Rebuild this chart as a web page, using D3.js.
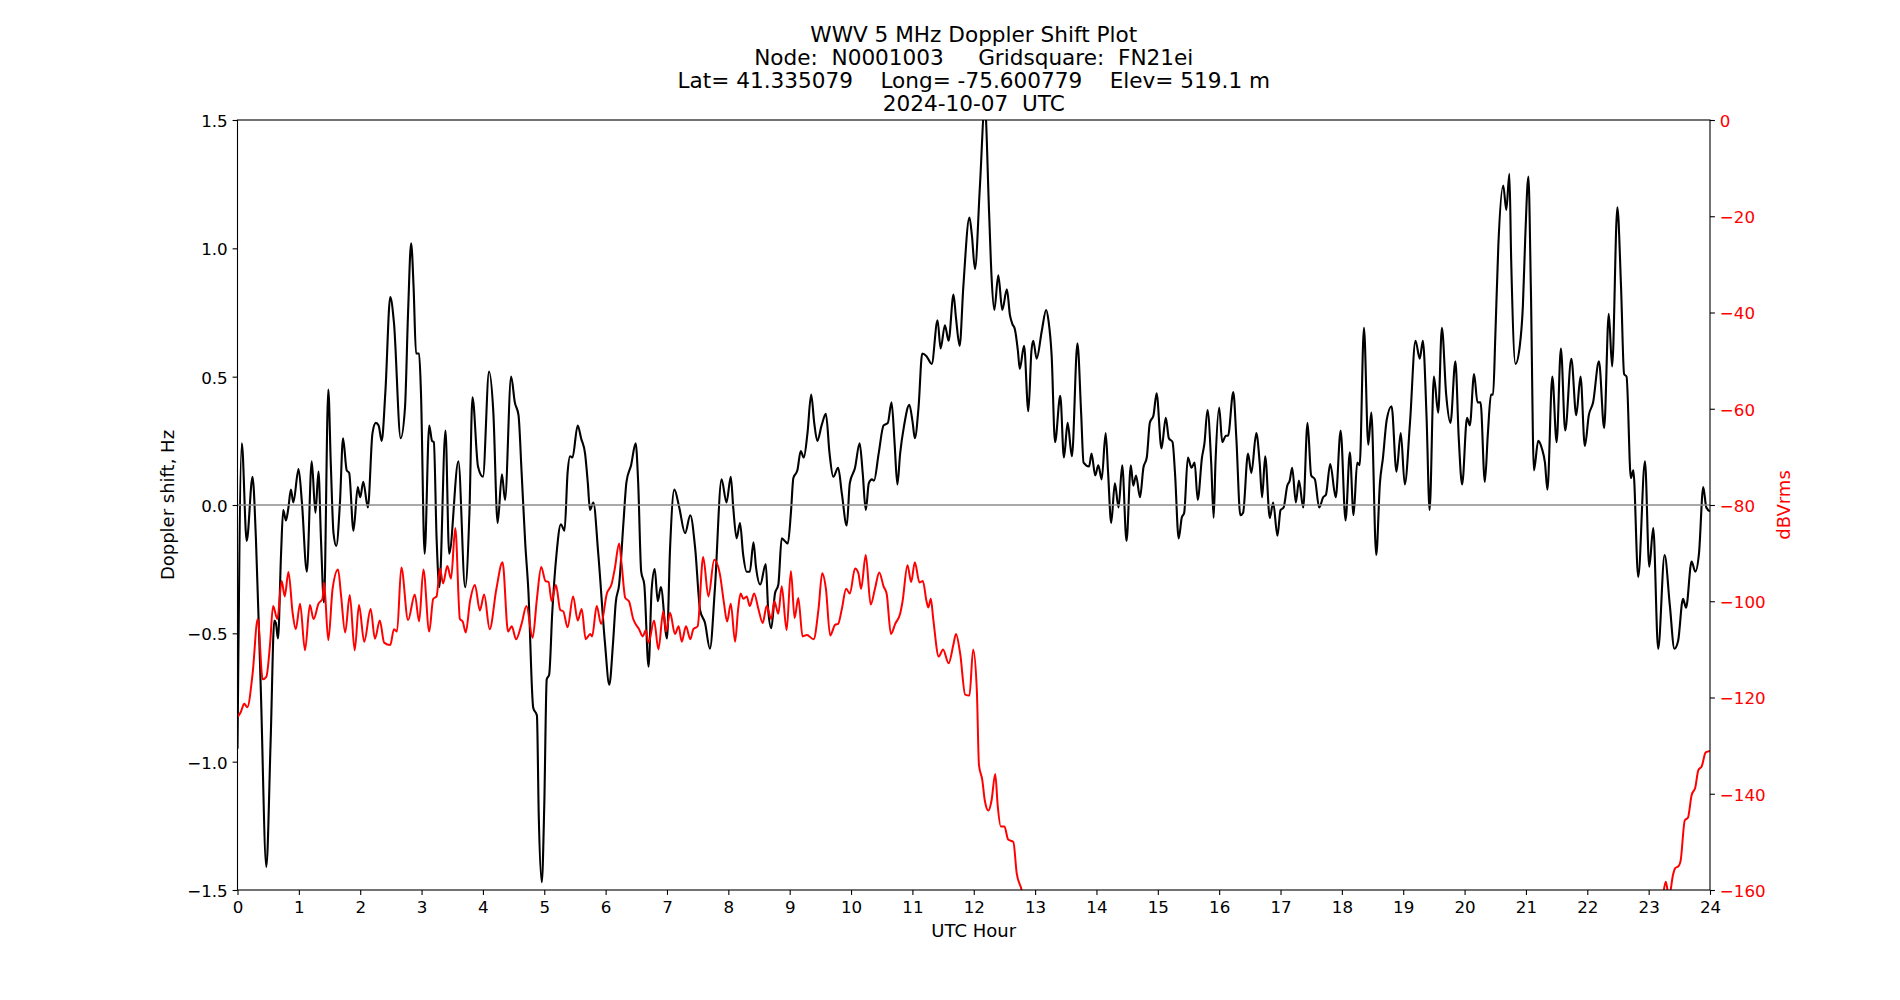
<!DOCTYPE html>
<html>
<head>
<meta charset="utf-8">
<script src="https://cdn.jsdelivr.net/npm/d3@7"></script>
<style>
  body { margin: 0; background: #fff; }
  text { font-family: "DejaVu Sans", sans-serif; }
</style>
</head>
<body>
<svg id="chart"></svg>
<script>
// Titles
const titleLines = [
    "WWV 5 MHz Doppler Shift Plot",
    "Node:  N0001003     Gridsquare:  FN21ei",
    "Lat= 41.335079    Long= -75.600779    Elev= 519.1 m",
    "2024-10-07  UTC"
];

// Tick values
const hourTicks = d3.range(0, 25, 1);
const dopplerTicks = [-1.5, -1.0, -0.5, 0.0, 0.5, 1.0, 1.5];
const dbTicks = [-160, -140, -120, -100, -80, -60, -40, -20, 0];

// Doppler shift (Hz)
const dopplerHours = [
    0.0, 0.07, 0.15, 0.245, 0.30, 0.38, 0.47, 0.54, 0.60, 0.625, 0.66, 0.71, 0.745, 0.79, 0.83, 0.87, 0.91, 0.995,
    1.05, 1.13, 1.21, 1.27, 1.32, 1.36, 1.41, 1.48, 1.52, 1.565, 1.61, 1.67, 1.72, 1.78, 1.82, 1.89, 1.96,
    2.0, 2.05, 2.125, 2.20, 2.255, 2.30, 2.35, 2.41, 2.49, 2.55, 2.66, 2.73, 2.78, 2.83, 2.87, 2.91, 2.96, 2.99,
    3.05, 3.125, 3.17, 3.20, 3.245, 3.29, 3.39, 3.45, 3.60, 3.71, 3.78, 3.83, 3.92, 4.0,
    4.10, 4.17, 4.24, 4.31, 4.36, 4.46, 4.52, 4.58, 4.63, 4.69, 4.74, 4.82, 4.88, 4.91, 4.96,
    5.0, 5.04, 5.08, 5.13, 5.20, 5.27, 5.33, 5.38, 5.42, 5.46, 5.545, 5.60, 5.665, 5.71, 5.745, 5.80, 5.88, 5.99,
    6.06, 6.12, 6.165, 6.22, 6.29, 6.34, 6.415, 6.49, 6.53, 6.58, 6.63, 6.70, 6.75, 6.80, 6.85, 6.90, 7.0,
    7.05, 7.12, 7.20, 7.295, 7.38, 7.46, 7.54, 7.62, 7.70, 7.78, 7.89, 7.97,
    8.04, 8.08, 8.135, 8.19, 8.24, 8.30, 8.35, 8.41, 8.45, 8.52, 8.61, 8.65, 8.70, 8.76, 8.815, 8.87, 8.92, 8.97,
    9.02, 9.06, 9.125, 9.18, 9.23, 9.29, 9.35, 9.40, 9.45, 9.52, 9.59, 9.65, 9.71, 9.79, 9.85, 9.93, 9.98,
    10.065, 10.14, 10.19, 10.24, 10.29, 10.34, 10.375, 10.45, 10.53, 10.60, 10.66, 10.71, 10.755, 10.80, 10.865, 10.95,
    11.005, 11.04, 11.10, 11.16, 11.23, 11.315, 11.41, 11.46, 11.53, 11.59, 11.67, 11.71, 11.77, 11.83, 11.93, 11.97,
    12.02, 12.10, 12.18, 12.25, 12.29, 12.335, 12.40, 12.465, 12.54, 12.59, 12.63, 12.67, 12.72, 12.75, 12.82, 12.89, 12.94, 12.97,
    13.025, 13.11, 13.18, 13.22, 13.27, 13.325, 13.41, 13.47, 13.53, 13.60, 13.69, 13.75, 13.79, 13.88, 13.92, 13.98,
    14.03, 14.085, 14.15, 14.19, 14.24, 14.30, 14.36, 14.42, 14.49, 14.56, 14.60, 14.645, 14.71, 14.765, 14.82, 14.87, 14.93, 14.98,
    15.06, 15.13, 15.18, 15.24, 15.28, 15.34, 15.39, 15.43, 15.49, 15.55, 15.60, 15.65, 15.72, 15.76, 15.81, 15.87, 15.91, 15.94,
    16.0, 16.05, 16.11, 16.145, 16.23, 16.28, 16.345, 16.39, 16.47, 16.525, 16.605, 16.66, 16.70, 16.75, 16.825, 16.88, 16.95,
    17.0, 17.05, 17.11, 17.15, 17.19, 17.25, 17.30, 17.37, 17.44, 17.50, 17.56, 17.63, 17.695, 17.74, 17.81, 17.90, 17.98,
    18.06, 18.13, 18.19, 18.25, 18.29, 18.36, 18.43, 18.48, 18.56, 18.62, 18.67, 18.73, 18.81, 18.89, 18.96,
    19.025, 19.11, 19.20, 19.27, 19.32, 19.38, 19.43, 19.50, 19.57, 19.63, 19.70, 19.77, 19.85, 19.905, 19.96,
    20.04, 20.085, 20.155, 20.21, 20.26, 20.33, 20.38, 20.43, 20.465, 20.50, 20.55, 20.63, 20.68, 20.73, 20.76, 20.83, 20.90, 20.95, 20.99,
    21.04, 21.08, 21.13, 21.20, 21.26, 21.31, 21.35, 21.43, 21.50, 21.57, 21.64, 21.74, 21.82, 21.89, 21.96,
    22.025, 22.095, 22.19, 22.275, 22.35, 22.405, 22.49, 22.55, 22.60, 22.64, 22.71, 22.75, 22.83, 22.94,
    23.01, 23.075, 23.155, 23.26, 23.345, 23.42, 23.48, 23.56, 23.61, 23.70, 23.76, 23.82, 23.89, 23.94, 24.0
];
const dopplerValues = [
    -0.95, 0.24, -0.14, 0.11, -0.13, -0.72, -1.41, -0.92, -0.45, -0.46, -0.52, -0.19, -0.02, -0.06, -0.01, 0.06, 0.01, 0.14,
    0.01, -0.26, 0.17, -0.03, 0.13, -0.13, -0.38, 0.45, 0.165, -0.11, -0.16, 0.01, 0.26, 0.135, 0.125, -0.10, 0.07,
    0.03, 0.09, -0.01, 0.28, 0.32, 0.31, 0.25, 0.44, 0.81, 0.71, 0.26, 0.38, 0.75, 1.02, 0.85, 0.59, 0.59, 0.44,
    -0.19, 0.31, 0.25, 0.245, -0.13, -0.32, 0.29, -0.19, 0.17, -0.32, -0.03, 0.42, 0.15, 0.11,
    0.52, 0.36, -0.07, 0.12, 0.02, 0.50, 0.40, 0.35, 0.13, -0.15, -0.33, -0.79, -0.82, -1.21, -1.47,
    -1.17, -0.68, -0.66, -0.42, -0.19, -0.075, -0.10, 0.125, 0.19, 0.185, 0.31, 0.26, 0.20, 0.085, -0.02, 0.01, -0.19, -0.54,
    -0.70, -0.54, -0.38, -0.31, -0.07, 0.09, 0.155, 0.24, 0.09, -0.26, -0.31, -0.63, -0.33, -0.25, -0.375, -0.32, -0.52,
    -0.17, 0.06, -0.01, -0.11, -0.04, -0.17, -0.41, -0.46, -0.56, -0.33, 0.10, 0.01,
    0.11, -0.01, -0.13, -0.07, -0.19, -0.26, -0.26, -0.145, -0.24, -0.31, -0.23, -0.41, -0.48, -0.345, -0.31, -0.13, -0.14, -0.15,
    -0.03, 0.105, 0.135, 0.21, 0.185, 0.28, 0.43, 0.32, 0.25, 0.31, 0.355, 0.20, 0.11, 0.145, 0.045, -0.08, 0.085,
    0.145, 0.24, 0.125, -0.02, 0.085, 0.10, 0.095, 0.20, 0.31, 0.32, 0.40, 0.24, 0.08, 0.20, 0.31, 0.39,
    0.32, 0.26, 0.38, 0.59, 0.58, 0.55, 0.72, 0.61, 0.70, 0.64, 0.82, 0.73, 0.62, 0.85, 1.12, 1.05,
    0.92, 1.24, 1.56, 1.14, 0.89, 0.76, 0.895, 0.76, 0.84, 0.74, 0.705, 0.685, 0.60, 0.53, 0.62, 0.365, 0.60, 0.64,
    0.57, 0.68, 0.76, 0.715, 0.58, 0.245, 0.425, 0.185, 0.32, 0.19, 0.63, 0.36, 0.165, 0.15, 0.20, 0.115,
    0.155, 0.10, 0.28, 0.125, -0.07, 0.085, -0.01, 0.155, -0.14, 0.155, 0.075, 0.115, 0.03, 0.145, 0.185, 0.32, 0.35, 0.435,
    0.22, 0.34, 0.26, 0.245, 0.125, -0.13, -0.05, -0.03, 0.185, 0.145, 0.165, 0.02, 0.185, 0.24, 0.37, 0.165, -0.05, 0.165,
    0.38, 0.245, 0.27, 0.27, 0.44, 0.26, -0.04, -0.03, 0.20, 0.125, 0.28, 0.165, 0.03, 0.19, -0.05, 0.01, -0.12,
    -0.02, -0.01, 0.075, 0.095, 0.145, 0.01, 0.095, -0.01, 0.32, 0.115, 0.10, -0.01, 0.03, 0.04, 0.16, 0.03, 0.29,
    -0.06, 0.205, -0.04, 0.165, 0.155, 0.69, 0.235, 0.36, -0.195, 0.085, 0.185, 0.33, 0.385, 0.13, 0.28,
    0.08, 0.32, 0.64, 0.57, 0.64, 0.345, -0.02, 0.50, 0.36, 0.69, 0.43, 0.32, 0.56, 0.26, 0.08,
    0.34, 0.31, 0.51, 0.40, 0.40, 0.09, 0.28, 0.43, 0.43, 0.65, 1.01, 1.245, 1.15, 1.29, 0.95, 0.55, 0.62, 0.775, 1.05,
    1.28, 0.85, 0.135, 0.25, 0.22, 0.165, 0.06, 0.50, 0.245, 0.61, 0.29, 0.57, 0.35, 0.50, 0.23,
    0.35, 0.40, 0.56, 0.30, 0.745, 0.54, 1.16, 0.85, 0.51, 0.50, 0.105, 0.135, -0.28, 0.17,
    -0.24, -0.09, -0.56, -0.195, -0.39, -0.56, -0.53, -0.365, -0.40, -0.22, -0.26, -0.19, 0.07, -0.01, -0.025
];

// Signal level (dBVrms); it dips below -160 between ~12.8 h and ~23.2 h
const levelHours = [
    0.0, 0.054, 0.11, 0.16, 0.245, 0.33, 0.41, 0.47, 0.53, 0.58, 0.65, 0.72, 0.77, 0.83, 0.90, 0.95,
    1.02, 1.10, 1.18, 1.24, 1.32, 1.385, 1.41, 1.48, 1.55, 1.64, 1.685, 1.755, 1.83, 1.91, 1.98,
    2.065, 2.17, 2.24, 2.32, 2.39, 2.49, 2.55, 2.60, 2.67, 2.78, 2.89, 2.96,
    3.03, 3.125, 3.19, 3.245, 3.30, 3.35, 3.42, 3.48, 3.55, 3.625, 3.67, 3.72, 3.79, 3.87, 3.95,
    4.02, 4.11, 4.22, 4.32, 4.41, 4.47, 4.54, 4.63, 4.71, 4.81, 4.88, 4.95,
    5.02, 5.07, 5.12, 5.19, 5.26, 5.31, 5.38, 5.47, 5.545, 5.61, 5.675, 5.75, 5.78, 5.855, 5.925,
    6.02, 6.10, 6.15, 6.22, 6.26, 6.32, 6.38, 6.45, 6.545, 6.605, 6.655, 6.70, 6.79, 6.86, 6.94, 6.985,
    7.05, 7.13, 7.19, 7.24, 7.31, 7.38, 7.43, 7.50, 7.59, 7.675, 7.77, 7.86, 7.93, 7.98,
    8.04, 8.11, 8.16, 8.20, 8.245, 8.30, 8.35, 8.42, 8.49, 8.56, 8.625, 8.70, 8.75, 8.815, 8.87, 8.95,
    9.02, 9.08, 9.14, 9.21, 9.28, 9.39, 9.47, 9.53, 9.59, 9.66, 9.74, 9.79, 9.85, 9.92, 9.98,
    10.065, 10.12, 10.164, 10.24, 10.32, 10.39, 10.46, 10.53, 10.58, 10.65, 10.72, 10.80, 10.84, 10.92, 10.98,
    11.04, 11.115, 11.17, 11.23, 11.26, 11.30, 11.34, 11.43, 11.50, 11.59, 11.67, 11.71, 11.78, 11.86, 11.93, 11.99,
    12.05, 12.085, 12.14, 12.18, 12.24, 12.29, 12.35, 12.39, 12.44, 12.50, 12.56, 12.645, 12.70, 12.78, 12.85,
    23.20, 23.28, 23.33, 23.40, 23.43, 23.49, 23.52, 23.59, 23.64, 23.70, 23.76, 23.81, 23.865, 23.93, 24.0
];
const levelValues = [
    -124.1, -123, -121.3, -122, -115.2, -103.7, -116.2, -115.7, -109, -101, -103.7, -95.8, -99, -93.9, -102.6, -105.8,
    -100.5, -110.2, -100.8, -103.7, -100.5, -99.5, -96.1, -108.1, -97.4, -93.4, -98.4, -106.5, -98.7, -110.2, -100.8,
    -108.4, -101.6, -107.8, -104, -108.6, -109.1, -105.8, -106.3, -93, -103.9, -98.6, -104.2,
    -93.4, -106.3, -99.5, -99, -93.2, -96.3, -92.7, -95.3, -84.8, -103.7, -104.2, -106.5, -100, -96.6, -101.9,
    -98.6, -105.8, -97.4, -91.9, -106.3, -105.2, -107.9, -104.7, -101, -107.6, -99.5, -92.9,
    -95.8, -96, -100, -96.6, -101.8, -102.1, -105.4, -99, -104, -101.6, -107.9, -106.8, -107.3, -101, -104.7,
    -98.4, -96.3, -93.2, -88, -92.2, -99.3, -100, -103.7, -105.8, -107.3, -106, -108.6, -104, -110, -102.1, -106.3,
    -102.4, -106.8, -105.2, -108.4, -105.2, -107.9, -105.8, -105.2, -90.8, -99, -91.4, -94.2, -100.5, -104.2,
    -100.5, -108.4, -101.6, -98.4, -99.5, -99, -101, -98.4, -101.6, -104.5, -101, -103.7, -100, -102.6, -96.9, -106,
    -93.7, -103.5, -99.3, -107.3, -107, -107.9, -101.6, -94.2, -97.4, -107.1, -104.9, -104.7, -101.6, -97.4, -98.4,
    -93.2, -94.2, -97.4, -90.4, -100.7, -97.4, -94, -96.9, -98.4, -106.8, -104.7, -102.6, -100, -92.5, -96,
    -91.9, -96.1, -95.8, -100, -101.3, -99.5, -103.7, -111.5, -110, -112.9, -108.9, -106.8, -111, -119.4, -119.6, -110,
    -118.4, -134, -137.2, -141.4, -143.5, -141.4, -135.9, -142.4, -146.8, -146.8, -149.5, -150, -156.5, -160, -165,
    -163, -158.3, -161.5, -156.7, -155.5, -155, -154, -145.5, -145, -140.3, -138.7, -135.1, -134.3, -131.4, -131.1
];

// Figure layout (matplotlib-like 19x10 in at 100 dpi)
const svgWidth = 1900;
const svgHeight = 1000;
const margin = { top: 120, right: 190, bottom: 110, left: 237.5 };
const width = svgWidth - margin.left - margin.right;
const height = svgHeight - margin.top - margin.bottom;

const svg = d3.select("#chart")
    .attr("width", svgWidth)
    .attr("height", svgHeight);

// Title block
svg.append("g")
    .selectAll("text")
    .data(titleLines)
    .enter().append("text")
    .attr("x", margin.left + width / 2)
    .attr("y", (d, i) => 42 + i * 23)
    .attr("text-anchor", "middle")
    .attr("font-size", "21.6px")
    .attr("fill", "#000")
    .style("white-space", "pre")
    .text(d => d);

const chart = svg.append("g")
    .attr("transform", `translate(${margin.left},${margin.top})`);

chart.append("clipPath")
    .attr("id", "plot-clip")
    .append("rect")
    .attr("width", width)
    .attr("height", height);

// Scales
const xScale = d3.scaleLinear().domain([0, 24]).range([0, width]);
const yScale = d3.scaleLinear().domain([-1.5, 1.5]).range([height, 0]);
const yScaleDb = d3.scaleLinear().domain([-160, 0]).range([height, 0]);

const minusFmt = s => s.replace("-", "\u2212");

// Doppler line
const dopplerData = dopplerHours.map((h, i) => ({ h, v: dopplerValues[i] }));
const dopplerLine = d3.line()
    .x(d => xScale(d.h))
    .y(d => yScale(d.v))
    .curve(d3.curveMonotoneX);

chart.append("path")
    .datum(dopplerData)
    .attr("clip-path", "url(#plot-clip)")
    .attr("fill", "none")
    .attr("stroke", "#000")
    .attr("stroke-width", 2.1)
    .attr("stroke-linejoin", "round")
    .attr("d", dopplerLine);

// Zero reference line
chart.append("line")
    .attr("x1", 0)
    .attr("x2", width)
    .attr("y1", yScale(0))
    .attr("y2", yScale(0))
    .attr("stroke", "#8c8c8c")
    .attr("stroke-width", 1.3);

// Signal level line (secondary axis)
const levelData = levelHours.map((h, i) => ({ h, v: levelValues[i] }));
const levelLine = d3.line()
    .x(d => xScale(d.h))
    .y(d => yScaleDb(d.v))
    .curve(d3.curveMonotoneX);

chart.append("path")
    .datum(levelData)
    .attr("clip-path", "url(#plot-clip)")
    .attr("fill", "none")
    .attr("stroke", "#ff0000")
    .attr("stroke-width", 2)
    .attr("stroke-linejoin", "round")
    .attr("d", levelLine);

// Axes
const xAxis = chart.append("g")
    .attr("transform", `translate(0,${height})`)
    .call(d3.axisBottom(xScale).tickValues(hourTicks).tickFormat(d3.format("d"))
        .tickSize(4.9).tickSizeOuter(0).tickPadding(6.5));

const yAxis = chart.append("g")
    .call(d3.axisLeft(yScale).tickValues(dopplerTicks).tickFormat(d => minusFmt(d.toFixed(1)))
        .tickSize(4.9).tickSizeOuter(0).tickPadding(4.9));

const yAxisDb = chart.append("g")
    .attr("transform", `translate(${width},0)`)
    .call(d3.axisRight(yScaleDb).tickValues(dbTicks).tickFormat(d => minusFmt(String(d)))
        .tickSize(4.9).tickSizeOuter(0).tickPadding(4.9));

[xAxis, yAxis, yAxisDb].forEach(g => {
    g.select(".domain").remove();
    g.selectAll("line").attr("stroke", "#000").attr("stroke-width", 1.1);
    g.selectAll("text")
        .attr("font-size", "16.7px")
        .attr("font-family", "DejaVu Sans, sans-serif")
        .attr("fill", "#000");
});
yAxis.selectAll("text").attr("dy", "0.38em");
yAxisDb.selectAll("text").attr("dy", "0.38em").attr("fill", "#ff0000");

// Frame
chart.append("rect")
    .attr("width", width)
    .attr("height", height)
    .attr("fill", "none")
    .attr("stroke", "#000")
    .attr("stroke-width", 1.1);

// Axis labels
chart.append("text")
    .attr("x", width / 2)
    .attr("y", height + 47)
    .attr("text-anchor", "middle")
    .attr("font-size", "18px")
    .text("UTC Hour");

chart.append("text")
    .attr("transform", `translate(${174 - margin.left},${height / 2}) rotate(-90)`)
    .attr("text-anchor", "middle")
    .attr("font-size", "18px")
    .text("Doppler shift, Hz");

chart.append("text")
    .attr("transform", `translate(${1789.5 - margin.left},${height / 2}) rotate(-90)`)
    .attr("text-anchor", "middle")
    .attr("font-size", "18px")
    .attr("fill", "#ff0000")
    .text("dBVrms");
</script>
</body>
</html>
